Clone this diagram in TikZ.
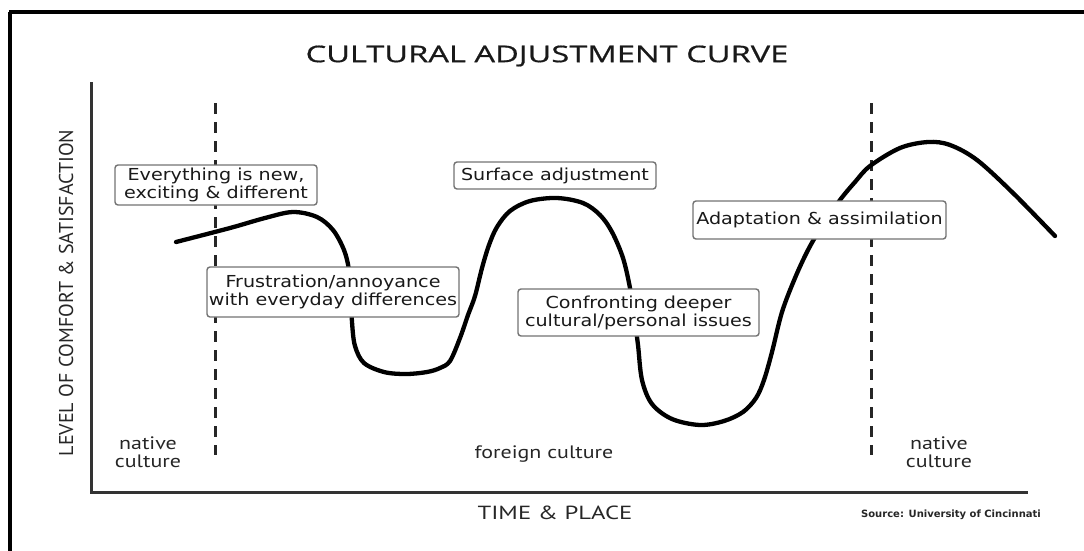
\documentclass[tikz,border=0pt]{standalone}
\usepackage{fontspec}
\setmainfont{PT Sans}
\newfontfamily\boxfont[FakeStretch=1.16]{DejaVu Sans}
\newfontfamily\srcfont{DejaVu Sans}
\newfontfamily\wfont[FakeStretch=1.22]{PT Sans}
\newfontfamily\xfont[FakeStretch=1.3]{PT Sans}
\newfontfamily\titlefont[FakeStretch=1.42,FakeBold=0.7]{Open Sans}
\begin{document}
\begin{tikzpicture}[x=1pt,y=-1pt,
  lbl/.style={draw=black!55, line width=1.4pt, rounded corners=3pt, fill=white,
    inner sep=0pt, align=center, text=black!90,
    font=\boxfont\fontsize{16.5}{18}\selectfont},
  axisline/.style={line width=3pt, draw=black!80},
  divider/.style={line width=3pt, dash pattern=on 11pt off 8pt, draw=black!85},
  curveline/.style={line width=4.3pt, line cap=round, line join=round},
  region/.style={align=center, text=black!85, font=\wfont\fontsize{18}{18}\selectfont}
]
\useasboundingbox (0,0) rectangle (1084,550);
% outer frame (cropped)
\draw[line width=3.5pt] (9,12) -- (1090,12);
\draw[line width=3.5pt] (10,12) -- (10,560);
% title
\node[text=black!90, font=\titlefont\fontsize{23}{26}\selectfont] (title) at (547,56) {CULTURAL ADJUSTMENT CURVE};
% axes
\coordinate (ytop) at (91,82);
\coordinate (origin) at (91,492);
\coordinate (xend) at (1028,492);
\draw[axisline] (ytop) -- (origin) -- (xend);
\node[rotate=90, text=black!85, font=\fontsize{20}{24}\selectfont] (ylab) at (66,293) {LEVEL OF COMFORT \& SATISFACTION};
\node[text=black!85, font=\xfont\fontsize{19}{22}\selectfont] (xlab) at (555,513) {TIME \& PLACE};
\node[text=black!85, font=\srcfont\bfseries\fontsize{10}{12}\selectfont] (src) at (951,515) {Source: University of Cincinnati};
% dividers
\coordinate (d1t) at (215,103);
\coordinate (d1b) at (215,455);
\coordinate (d2t) at (871,103);
\coordinate (d2b) at (871,455);
\draw[divider] (d1t) -- (d1b);
\draw[divider] (d2t) -- (d2b);
% region labels
\node[region] (nat1) at (148,452) {native\\culture};
\node[region] (foreign) at (544,454) {foreign culture};
\node[region] (nat2) at (939,452) {native\\culture};
% curve
\draw[curveline] plot[smooth, tension=0.55] coordinates {
 (176,242) (230,228) (265,218) (293,212) (317,217) (333,230) (344,250) (349,270)
 (351,295) (352,322) (355,346) (364,363) (384,372) (406,374) (427,372) (440,368)
 (450,361) (460,338) (468,315) (475,296) (482,268) (489,245) (497,227) (510,211)
 (530,201) (557,198) (583,203) (600,215) (612,232) (623,258) (630,288) (634,315)
 (638,345) (642,380) (652,404) (672,419) (700,425) (724,421) (743,412) (756,398)
 (764,380) (772,352) (782,312) (795,278) (808,250) (822,226) (840,200) (855,182)
 (870,166) (900,148) (928,142) (950,145) (977,160) (1013,193) (1055,236)};
% labels
\node[lbl, minimum width=202pt, minimum height=40pt] (new) at (216,185) {Everything is new,\\exciting \& different};
\node[lbl, minimum width=252pt, minimum height=50pt] (frus) at (333,292) {Frustration/annoyance\\with everyday differences};
\node[lbl, minimum width=202pt, minimum height=27pt] (surf) at (555,175.5) {Surface adjustment};
\node[lbl, minimum width=241pt, minimum height=47pt] (conf) at (638.5,312.5) {Confronting deeper\\cultural/personal issues};
\node[lbl, minimum width=253pt, minimum height=38pt] (adapt) at (819.5,220) {Adaptation \& assimilation};
\end{tikzpicture}
\end{document}
